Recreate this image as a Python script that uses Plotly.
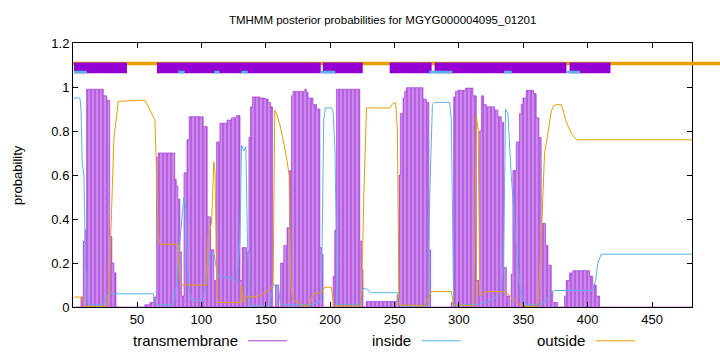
import plotly.graph_objects as go

title_text = "TMHMM posterior probabilities for MGYG000004095_01201"
seq_len = 481

# transmembrane posterior (step values: value holds from this residue onward)
tm_pos = [1, 6.5, 8.3, 9.6, 10.9, 23.8, 26.5, 28.8, 30.5, 32.1, 33.7,
          56, 60, 63, 65.2, 66.5, 79.3, 80.5, 81.8, 83.3, 84.5, 86.5, 88.8, 90.5,
          101.4, 104.5, 107.1, 109.7, 111.8, 114.4, 120, 123.4, 127.3, 130, 131.7, 135,
          136.9, 138.2, 139.7, 145.4, 149.3, 151.8, 153.7, 155.3, 157.6, 160.1,
          161.5, 164, 166.5, 168.5, 170, 171.2, 180.3, 181.6, 182.9, 186.7, 189.4, 192, 193.2, 194.5,
          202.3, 203.6, 204.9, 223, 224.3, 225.5, 228, 252, 253.5, 254.5, 256.6, 257.9, 259.2,
          272.1, 274.7, 276.7, 278, 294.1, 295.9, 297.4, 299.2, 305.2, 310.9, 313.5,
          316.1, 317.4, 319.2, 321.3, 327.7, 330.3, 332.9, 334.7, 336.8, 339.3,
          340.6, 341.9, 344.5, 347.1, 348.4, 349.7, 352.3, 357.9, 360, 362.1, 363.9, 367.3, 369.1, 371.7, 372.9, 376.8,
          382, 383.3, 385.9, 388.5, 401.4, 403.9, 406.6, 409.2, 481]
tm_prob = [0.0, 0.045, 0.30, 0.35, 0.99, 0.96, 0.94, 0.32, 0.20, 0.155, 0.0,
           0.01, 0.02, 0.045, 0.68, 0.70, 0.58, 0.55, 0.49, 0.25, 0.05, 0.61, 0.76, 0.865,
           0.82, 0.41, 0.26, 0.12, 0.75, 0.835, 0.85, 0.86, 0.87, 0.12, 0.27, 0.25,
           0.77, 0.91, 0.955, 0.95, 0.945, 0.93, 0.91, 0.0, 0.10, 0.0,
           0.20, 0.28, 0.36, 0.62, 0.96, 0.98, 0.99, 0.975, 0.95, 0.92, 0.90, 0.27, 0.24, 0.0,
           0.14, 0.35, 0.99, 0.30, 0.17, 0.0, 0.025, 0.055, 0.60, 0.88, 0.95, 0.98, 0.997,
           0.945, 0.93, 0.26, 0.0, 0.02, 0.955, 0.98, 0.985, 0.995, 0.96, 0.12,
           0.80, 0.96, 0.92, 0.91, 0.895, 0.865, 0.84, 0.18, 0.05, 0.0,
           0.15, 0.62, 0.75, 0.88, 0.92, 0.95, 0.985, 0.97, 0.86, 0.77, 0.38, 0.28, 0.19, 0.07, 0.02, 0.0,
           0.05, 0.12, 0.155, 0.165, 0.14, 0.10, 0.05, 0.0, 0.0]

inside_pos = [1, 5.7, 6.5, 7.5, 8.8, 10, 12.2, 23.8, 25.1, 27.7, 62.6, 65.2, 78.1, 80.8, 83.3, 86.4, 88,
              89.8, 92.4, 101.4, 105.3, 106.6, 109.7, 113, 124.7, 127.3, 129.9, 131.2, 133, 134.5,
              135.8, 137.6, 153.1, 155.7, 159.6, 161.4, 186.7, 193.2, 195, 196.3, 201, 202.3, 203.8,
              205.4, 223, 225.5, 229.4, 231.3, 252.7, 254.5, 276, 277.3, 279.4, 281.1, 292.8, 294.1,
              295.9, 313.5, 321.3, 327.7, 332.1, 334.7, 336.2, 338, 340.6, 342.4, 345.8, 348.4, 352.3,
              362.6, 367.8, 371.7, 374.2, 404, 406.1, 407.9, 410.5, 481]
inside_prob = [0.95, 0.95, 0.90, 0.65, 0.60, 0.2, 0.01, 0.01, 0.03, 0.06, 0.06, 0.01, 0.01, 0.10, 0.30, 0.50, 0.45,
               0.10, 0.03, 0.03, 0.20, 0.245, 0.24, 0.14, 0.13, 0.11, 0.30, 0.735, 0.71, 0.73,
               0.30, 0.005, 0.005, 0.10, 0.10, 0.01, 0.01, 0.03, 0.85, 0.905, 0.905, 0.89, 0.70,
               0.01, 0.01, 0.085, 0.08, 0.065, 0.065, 0.005, 0.005, 0.50, 0.92, 0.93, 0.93, 0.85,
               0.01, 0.01, 0.02, 0.04, 0.06, 0.20, 0.90, 0.88, 0.60, 0.45, 0.17, 0.06, 0.01,
               0.01, 0.03, 0.065, 0.075, 0.075, 0.12, 0.20, 0.24, 0.24]

outside_pos = [1, 7.8, 8.8, 26.4, 28.2, 29.5, 31.1, 32.1, 34.2, 35.5, 56.2, 58.7, 61.4, 63.9, 65.2, 66.5,
               67.8, 82, 83.3, 85.9, 88, 104, 105.3, 107.9, 109.7, 110.7, 111.8, 113, 129.9, 131.2,
               132.4, 135.1, 145.4, 153.1, 155.7, 157, 158.3, 160.9, 163.5, 166.1, 168.1, 169.4,
               171.2, 176.4, 179, 183.6, 186.7, 193.2, 195.8, 201, 202.8, 224.3, 226.1, 228.2,
               246.2, 248.8, 250.9, 252.2, 253.5, 273.4, 276, 278.6, 294.1, 295.9, 311.6, 313.5,
               315, 316.1, 318.6, 321.3, 334.1, 338, 341.9, 347.1, 352.3, 361.3, 363.9, 366.5,
               369.1, 371.7, 373.5, 375.6, 379.4, 381.2, 382.8, 384.6, 386.4, 388.5, 391.6, 481]
outside_prob = [0.045, 0.045, 0.003, 0.003, 0.07, 0.30, 0.65, 0.77, 0.87, 0.935, 0.94, 0.91, 0.88, 0.85, 0.60, 0.32,
                0.285, 0.285, 0.12, 0.095, 0.10, 0.10, 0.33, 0.38, 0.66, 0.60, 0.10, 0.02, 0.02, 0.10,
                0.02, 0.045, 0.05, 0.08, 0.10, 0.895, 0.88, 0.83, 0.76, 0.68, 0.60, 0.10,
                0.03, 0.02, 0.005, 0.005, 0.06, 0.065, 0.09, 0.09, 0.005, 0.005, 0.50, 0.905,
                0.905, 0.925, 0.93, 0.80, 0.01, 0.005, 0.04, 0.07, 0.07, 0.01, 0.005, 0.87,
                0.80, 0.05, 0.06, 0.07, 0.07, 0.06, 0.04, 0.01, 0.003, 0.003, 0.30, 0.70,
                0.79, 0.89, 0.915, 0.92, 0.92, 0.89, 0.85, 0.82, 0.80, 0.78, 0.76, 0.76]

# predicted topology band at the top (residue ranges)
tm_segments = [(1.1, 42.2), (65.5, 192.7), (194.3, 225.3), (246.2, 278.8), (281.1, 383.5), (385.9, 417.7)]
inside_segments = [(1, 11), (82, 87), (110, 114), (131, 136), (193, 204), (277, 295), (335, 341), (384, 394)]

x_ticks = [50, 100, 150, 200, 250, 300, 350, 400, 450]
y_ticks = [0, 0.2, 0.4, 0.6, 0.8, 1.0, 1.2]
y_ticktext = ["0", "0.2", "0.4", "0.6", "0.8", "1", "1.2"]
legend_names = ["transmembrane", "inside", "outside"]

C_TM = "#9400d3"
C_IN = "#56b4e9"
C_OUT = "#e69f00"
FONT = "Liberation Sans, Arial, sans-serif"

fig = go.Figure()
fig.add_trace(go.Scatter(x=tm_pos, y=tm_prob, mode="lines",
                         line=dict(shape="hv", width=0.8, color="rgba(160,50,215,0.8)"),
                         fill="tozeroy", fillcolor="#c27ce8",
                         fillpattern=dict(shape="|", fgcolor="#a53ad9", bgcolor="#c988ea", size=4, solidity=0.5),
                         showlegend=False, hoverinfo="skip"))
fig.add_trace(go.Scatter(x=inside_pos, y=inside_prob, mode="lines", line=dict(width=1, color=C_IN),
                         showlegend=False))
fig.add_trace(go.Scatter(x=outside_pos, y=outside_prob, mode="lines", line=dict(width=1, color=C_OUT),
                         showlegend=False))

shapes = []
# outside band line across the whole width (extends past the frame)
shapes.append(dict(type="line", xref="paper", yref="y", x0=0, x1=1.05, y0=1.107, y1=1.107,
                   line=dict(color=C_OUT, width=3.5), layer="above"))
for a, b in tm_segments:
    shapes.append(dict(type="rect", xref="x", yref="y", x0=a, x1=b, y0=1.062, y1=1.111,
                       fillcolor=C_TM, line=dict(width=0), layer="above"))
for a, b in inside_segments:
    shapes.append(dict(type="rect", xref="x", yref="y", x0=a, x1=b, y0=1.062, y1=1.074,
                       fillcolor=C_IN, line=dict(width=0), layer="above"))

# gnuplot-style key at the bottom
key_text_right = [0.2698, 0.549, 0.830]
key_line = [(0.2827, 0.3457), (0.5638, 0.6268), (0.845, 0.908)]
key_colors = ["#a040d8", C_IN, C_OUT]
annotations = []
key_y = -0.128
for name, xr, (l0, l1), col in zip(legend_names, key_text_right, key_line, key_colors):
    annotations.append(dict(text=name, xref="paper", yref="paper", x=xr, y=key_y, xanchor="right",
                            yanchor="middle", showarrow=False, font=dict(family=FONT, size=15, color="#000")))
    shapes.append(dict(type="line", xref="paper", yref="paper", x0=l0, x1=l1, y0=key_y, y1=key_y,
                       line=dict(color=col, width=1)))

annotations.append(dict(text="probability", xref="paper", yref="paper", x=-0.0905, y=0.5, xanchor="center",
                        yanchor="middle", textangle=-90, showarrow=False,
                        font=dict(family=FONT, size=13, color="#000")))

fig.update_layout(
    width=720, height=352,
    margin=dict(l=73, r=28, t=43, b=45),
    paper_bgcolor="white", plot_bgcolor="white",
    title=dict(text=title_text, x=0.5315, xanchor="center", y=1 - 20 / 352, yanchor="middle",
               yref="container", font=dict(family=FONT, size=11.5, color="#000")),
    font=dict(family=FONT, size=13, color="#000"),
    shapes=shapes, annotations=annotations, showlegend=False,
    xaxis=dict(range=[0.3, seq_len], tickvals=x_ticks, ticks="inside", ticklen=5, tickcolor="#000",
               showline=True, linecolor="#000", linewidth=1, mirror="ticks", showgrid=False, zeroline=False,
               tickfont=dict(family=FONT, size=13, color="#000")),
    yaxis=dict(range=[0, 1.2], tickvals=y_ticks, ticktext=y_ticktext, ticks="inside", ticklen=5, tickcolor="#000",
               showline=True, linecolor="#000", linewidth=1, mirror="ticks", showgrid=False, zeroline=False,
               tickfont=dict(family=FONT, size=13, color="#000")),
)

fig.write_html("out.html")
